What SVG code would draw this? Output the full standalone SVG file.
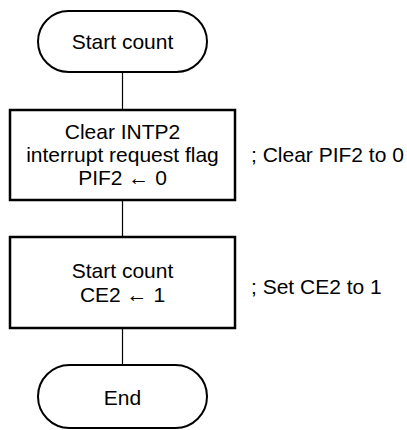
<svg xmlns="http://www.w3.org/2000/svg" width="407" height="430" viewBox="0 0 407 430">
<style>
.term{fill:#fff;stroke:#000;stroke-width:2}
.box{fill:#fff;stroke:#000;stroke-width:2.5}
.conn{stroke:#000;stroke-width:1.2;fill:none}
text{font-family:"Liberation Sans",Arial,sans-serif;font-size:21px;fill:#000}
.c{text-anchor:middle}
</style>
<rect width="407" height="430" fill="#fff"/>
<g id="connectors">
<line class="conn" x1="122.5" y1="72" x2="122.5" y2="110"/>
<line class="conn" x1="122.5" y1="200" x2="122.5" y2="237"/>
<line class="conn" x1="122.5" y1="328" x2="122.5" y2="365"/>
</g>
<g id="start">
<rect class="term" x="38" y="11" width="169" height="61" rx="30.5"/>
<text class="c" x="122.5" y="48.5">Start count</text>
</g>
<g id="clear">
<rect class="box" x="10" y="110" width="225" height="90"/>
<text class="c" x="122.5" y="138.5">Clear INTP2</text>
<text class="c" x="122.5" y="161.5">interrupt request flag</text>
<text class="c" x="122.5" y="184.5">PIF2 ← 0</text>
</g>
<g id="clear-comment">
<text x="251" y="161.5">; Clear PIF2 to 0</text>
</g>
<g id="startcount">
<rect class="box" x="10" y="237" width="225" height="91"/>
<text class="c" x="122.5" y="278">Start count</text>
<text class="c" x="122.5" y="302">CE2 ← 1</text>
</g>
<g id="set-comment">
<text x="251" y="293.5">; Set CE2 to 1</text>
</g>
<g id="end">
<rect class="term" x="38" y="365" width="169" height="63" rx="31.5"/>
<text class="c" x="122.5" y="405">End</text>
</g>
</svg>
